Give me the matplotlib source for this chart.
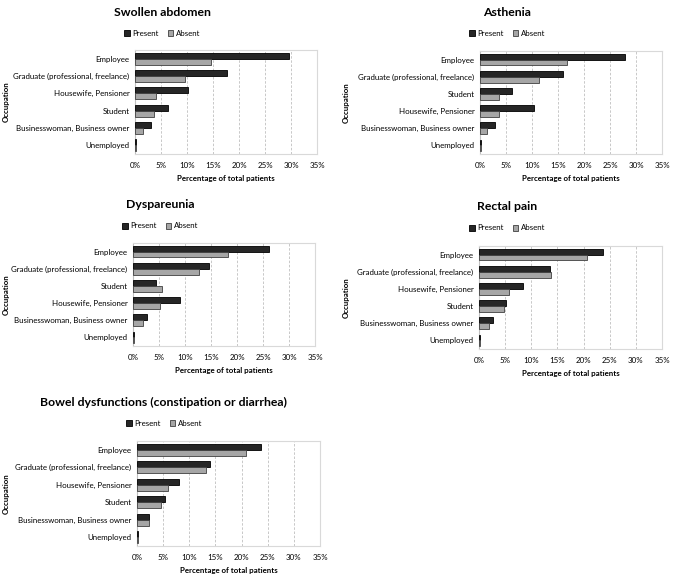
import numpy as np
import matplotlib
matplotlib.use('Agg')
import matplotlib.pyplot as plt
from matplotlib.ticker import FuncFormatter

plt.rcParams['font.family'] = ['Lato', 'DejaVu Sans']

# ---- data (percent of total patients), categories listed top to bottom ----
swollen_cats = ['Employee', 'Graduate (professional, freelance)', 'Housewife, Pensioner',
                'Student', 'Businesswoman, Business owner', 'Unemployed']
swollen_present = [29.7, 17.7, 10.1, 6.3, 3.1, 0.2]
swollen_absent = [14.7, 9.7, 4.0, 3.6, 1.5, 0.2]

asthenia_cats = ['Employee', 'Graduate (professional, freelance)', 'Student',
                 'Housewife, Pensioner', 'Businesswoman, Business owner', 'Unemployed']
asthenia_present = [27.9, 16.0, 6.1, 10.4, 2.9, 0.1]
asthenia_absent = [16.7, 11.3, 3.7, 3.6, 1.4, 0.2]

dysp_cats = ['Employee', 'Graduate (professional, freelance)', 'Student',
             'Housewife, Pensioner', 'Businesswoman, Business owner', 'Unemployed']
dysp_present = [26.2, 14.7, 4.4, 9.1, 2.6, 0.2]
dysp_absent = [18.3, 12.7, 5.6, 5.1, 1.9, 0.2]

rectal_cats = ['Employee', 'Graduate (professional, freelance)', 'Housewife, Pensioner',
               'Student', 'Businesswoman, Business owner', 'Unemployed']
rectal_present = [23.8, 13.6, 8.4, 5.2, 2.7, 0.1]
rectal_absent = [20.6, 13.7, 5.7, 4.7, 1.9, 0.2]

bowel_cats = ['Employee', 'Graduate (professional, freelance)', 'Housewife, Pensioner',
              'Student', 'Businesswoman, Business owner', 'Unemployed']
bowel_present = [23.7, 14.0, 8.0, 5.3, 2.2, 0.1]
bowel_absent = [20.8, 13.2, 6.0, 4.5, 2.3, 0.2]

panels = [
    ('Swollen abdomen', swollen_cats, swollen_present, swollen_absent),
    ('Asthenia', asthenia_cats, asthenia_present, asthenia_absent),
    ('Dyspareunia', dysp_cats, dysp_present, dysp_absent),
    ('Rectal pain', rectal_cats, rectal_present, rectal_absent),
    ('Bowel dysfunctions (constipation or diarrhea)', bowel_cats, bowel_present, bowel_absent),
]

# pixel layout: (left, top, right, bottom) of axes, title y, legend y, title x
W, H = 677, 584
boxes = [
    (135, 50, 317, 154, 12, 33, 162),
    (480, 51, 662, 154, 12, 33, 507),
    (133, 243, 315, 346, 204, 226, 160),
    (479, 246, 662, 349, 207, 228, 507),
    (137, 441, 320, 546, 402, 423, 164),
]
fs = 5.7

fig = plt.figure(figsize=(W / 100, H / 100), dpi=100)

for (title, cats, pres, absn), (l, t, r, b, ty, ly, tx) in zip(panels, boxes):
    ax = fig.add_axes([l / W, 1 - b / H, (r - l) / W, (b - t) / H])
    y = np.arange(len(cats))
    h = 0.34
    ax.barh(y - h / 2, pres, height=h, color='#262626', edgecolor='#000000',
            linewidth=0.6, label='Present', zorder=3)
    ax.barh(y + h / 2, absn, height=h, color='#a6a6a6', edgecolor='#404040',
            linewidth=0.6, label='Absent', zorder=3)
    ax.set_yticks(y)
    ax.set_yticklabels(cats, fontsize=fs)
    ax.set_ylim(len(cats) - 0.5, -0.5)
    ax.set_xlim(0, 35)
    ax.set_xticks(np.arange(0, 36, 5))
    ax.xaxis.set_major_formatter(FuncFormatter(lambda v, p: '%d%%' % v))
    ax.tick_params(axis='x', labelsize=fs, length=0, pad=6)
    ax.tick_params(axis='y', length=0, pad=4)
    ax.grid(axis='x', color='#bfbfbf', linestyle=(0, (3, 2)), linewidth=0.6, zorder=0)
    for s in ax.spines.values():
        s.set_color('#d9d9d9')
        s.set_linewidth(0.8)
    ax.spines['left'].set_color('#bfbfbf')
    ax.set_xlabel('Percentage of total patients', fontsize=fs, fontweight='bold', labelpad=4)
    fig.text(6 / W if l < 300 else 346 / W, 1 - (t + b) / 2 / H, 'Occupation',
             rotation=90, fontsize=fs, fontweight='bold', ha='center', va='center')
    fig.text(tx / W, 1 - ty / H, title, fontsize=8.8, fontweight='bold',
             ha='center', va='center')
    ax.legend(loc='center', bbox_to_anchor=(tx / W, 1 - ly / H), bbox_transform=fig.transFigure,
              ncol=2, frameon=False, fontsize=fs, handlelength=0.7, handleheight=0.7,
              handletextpad=0.3, columnspacing=1.2)

fig.savefig('out.png', dpi=100)
